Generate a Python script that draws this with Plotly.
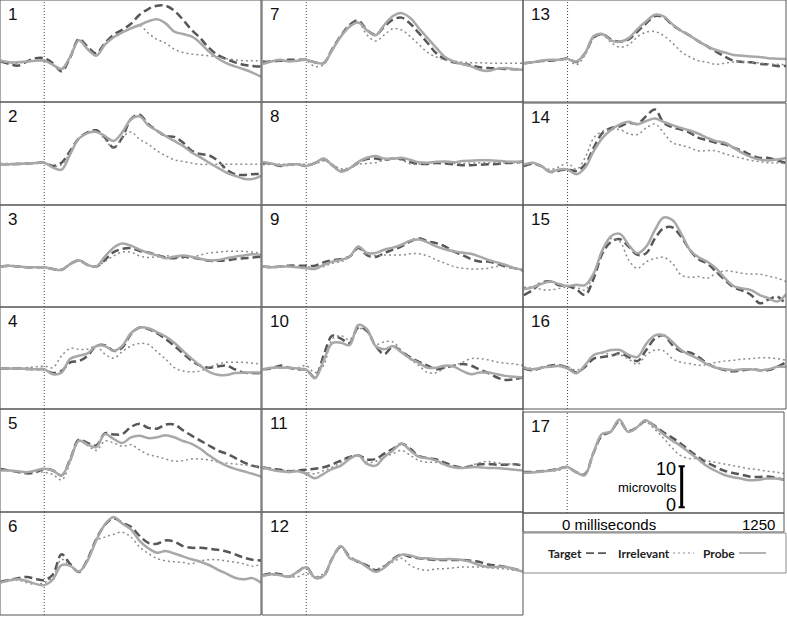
import plotly.graph_objects as go

# time axis (ms) shared by every panel
times = list(range(-250, 1251, 50))

# microvolt values: target / irrelevant / probe
target_1 = [0.0, -0.6, -1.0, 0.0, 0.8, 0.8, -0.4, -2.4, 1.0, 5.5, 3.6, 2.0, 4.5, 6.5, 7.7, 9.2, 11.4, 12.8, 13.6, 13.6, 12.4, 10.2, 7.7, 5.7, 3.3, 1.6, 0.6, -0.2, -0.8, -1.1, -1.2]
irrelevant_1 = [0.3, -0.3, -0.4, 0.0, 0.2, 0.4, -0.8, -2.0, 1.0, 5.0, 3.2, 1.6, 4.1, 5.9, 7.1, 8.1, 8.8, 6.9, 5.4, 4.5, 3.0, 2.2, 1.8, 1.6, 1.4, 1.1, 0.7, 0.4, 0.2, 0.2, 0.2]
probe_1 = [0.2, -0.2, -0.2, 0.0, 0.2, 0.2, -0.8, -1.8, 1.2, 5.2, 3.0, 1.4, 4.1, 5.9, 7.1, 8.1, 8.9, 9.8, 10.3, 9.3, 7.3, 6.7, 6.1, 4.5, 2.4, 0.8, -0.4, -1.2, -1.9, -2.7, -3.7]

target_2 = [-0.2, -0.2, -0.1, 0.0, 0.1, 0.2, -0.6, 0.2, 3.1, 6.1, 7.6, 8.1, 6.3, 3.9, 6.3, 10.8, 11.9, 9.6, 8.0, 6.7, 6.5, 5.1, 3.1, 2.3, 2.0, 0.7, -1.4, -2.6, -2.8, -2.6, -2.6]
irrelevant_2 = [0.0, 0.0, 0.0, 0.0, 0.1, 0.2, -0.7, -0.3, 2.7, 5.9, 7.4, 7.9, 5.9, 3.7, 6.3, 7.7, 5.9, 4.7, 3.1, 1.9, 0.9, 0.5, 0.1, -0.2, -0.2, -0.2, -0.2, -0.2, -0.2, -0.2, -0.2]
probe_2 = [-0.2, -0.2, -0.1, 0.0, 0.1, 0.2, -1.0, -1.5, 2.3, 6.1, 7.4, 7.7, 6.7, 5.5, 7.6, 10.8, 11.5, 9.3, 8.0, 6.7, 5.5, 4.3, 2.7, 1.5, 0.2, -1.0, -2.2, -3.0, -3.7, -3.8, -3.0]

target_3 = [0.0, 0.2, 0.0, -0.2, -0.2, -0.2, -0.6, -0.8, 0.6, 1.5, 0.4, 0.0, 1.6, 3.5, 4.3, 4.5, 3.8, 3.4, 2.8, 2.2, 2.0, 2.4, 2.2, 1.8, 1.4, 1.4, 1.5, 1.8, 2.0, 2.2, 2.4]
irrelevant_3 = [0.0, 0.2, 0.0, -0.2, -0.2, -0.2, -0.6, -0.8, 0.6, 1.4, 0.3, 0.0, 1.2, 2.6, 3.5, 3.5, 2.6, 2.2, 2.4, 2.6, 2.4, 2.0, 2.2, 2.8, 3.3, 3.5, 3.7, 3.7, 3.7, 3.5, 3.3]
probe_3 = [0.0, 0.2, 0.0, -0.2, -0.2, -0.2, -0.6, -0.8, 0.6, 1.5, 0.4, 0.0, 2.4, 4.6, 5.6, 5.1, 4.1, 3.3, 2.7, 2.0, 2.4, 2.7, 2.4, 1.9, 1.5, 1.6, 2.0, 2.4, 2.7, 3.0, 2.8]

target_4 = [0.0, 0.0, 0.0, -0.1, -0.2, -0.2, -1.1, -0.6, 1.5, 1.8, 3.1, 5.5, 5.7, 4.3, 5.1, 8.4, 10.0, 9.6, 8.6, 7.2, 5.5, 3.7, 1.9, 0.7, 0.2, 0.5, 0.7, -0.2, -1.0, -1.1, -1.2]
irrelevant_4 = [0.0, 0.0, 0.0, 0.2, 0.4, 0.6, 0.2, 3.1, 4.9, 4.7, 4.7, 5.4, 3.5, 2.5, 4.1, 5.5, 6.1, 5.9, 4.1, 2.3, 0.2, -0.6, -0.8, -0.6, 0.2, 1.1, 1.5, 1.5, 1.5, 1.3, 1.1]
probe_4 = [0.0, 0.0, 0.0, -0.1, -0.2, -0.2, -1.4, -1.0, 2.4, 3.1, 3.7, 5.5, 5.5, 4.3, 5.5, 8.6, 10.0, 9.8, 8.9, 7.8, 6.3, 4.3, 2.4, 0.7, -0.8, -1.5, -1.6, -1.1, -1.0, -1.0, -1.0]

target_5 = [0.4, 0.0, -0.4, -0.7, -0.5, 0.4, 0.0, -1.2, 2.8, 7.5, 6.7, 6.1, 9.1, 8.8, 8.9, 10.6, 11.4, 10.4, 10.2, 11.2, 11.2, 9.8, 8.5, 7.3, 6.1, 4.9, 4.1, 3.1, 2.0, 1.2, 0.7]
irrelevant_5 = [0.0, 0.0, -0.2, -0.4, -0.4, -0.4, -1.0, -2.3, 2.0, 7.2, 6.1, 4.9, 7.2, 6.7, 5.9, 6.3, 5.0, 3.9, 3.4, 2.8, 2.3, 2.4, 2.8, 2.8, 2.6, 2.1, 1.8, 1.6, 1.4, 1.1, 0.8]
probe_5 = [0.0, 0.0, -0.2, -0.4, 0.0, 0.4, 0.0, -1.2, 2.6, 7.3, 6.3, 5.7, 8.9, 7.7, 6.7, 8.1, 8.5, 7.9, 8.1, 8.6, 8.1, 7.2, 6.5, 5.3, 3.7, 2.3, 1.2, 0.4, -0.2, -0.8, -1.5]

target_6 = [-0.2, 0.3, 0.7, 1.0, 0.5, 0.2, 1.6, 6.5, 4.1, 2.2, 5.3, 10.2, 13.7, 15.3, 14.2, 13.2, 11.0, 9.3, 9.1, 9.9, 9.6, 8.5, 8.1, 8.1, 7.9, 7.6, 7.2, 6.5, 5.7, 5.2, 5.0]
irrelevant_6 = [-0.4, 0.0, 0.2, -0.4, -0.8, -0.4, 1.0, 5.3, 3.7, 2.3, 5.3, 9.8, 10.7, 11.4, 11.9, 10.7, 8.3, 6.7, 5.5, 4.9, 4.7, 4.5, 4.2, 4.9, 5.2, 5.2, 4.9, 4.6, 4.2, 3.6, 4.1]
probe_6 = [-0.4, 0.2, 0.4, 0.0, -0.7, -1.0, 0.4, 3.9, 3.7, 2.3, 5.0, 9.9, 13.8, 15.6, 14.0, 12.6, 9.8, 8.0, 6.9, 7.3, 6.7, 6.0, 5.3, 4.7, 3.9, 2.8, 1.8, 0.8, 0.4, 0.7, -0.4]

target_7 = [-0.2, 0.0, 0.2, 0.4, 0.4, 0.4, -0.2, -0.4, 3.0, 6.3, 8.9, 10.0, 7.7, 6.5, 8.5, 10.2, 10.7, 9.2, 6.9, 4.5, 2.0, 0.6, -0.2, -0.6, -0.9, -1.4, -1.6, -1.7, -1.8, -1.9, -1.9]
irrelevant_7 = [0.2, 0.2, 0.2, 0.2, 0.2, 0.2, -1.2, -0.8, 2.8, 6.3, 8.9, 9.5, 6.5, 5.0, 6.5, 8.0, 7.7, 6.1, 4.1, 2.2, 1.1, 0.4, 0.1, -0.2, -0.3, -0.3, -0.4, -0.4, -0.4, -0.4, -0.4]
probe_7 = [-0.6, 0.0, 0.4, 0.0, 0.2, 0.4, -0.2, -0.4, 2.8, 6.1, 8.5, 9.5, 7.6, 6.4, 8.9, 11.1, 11.8, 10.6, 8.1, 5.7, 3.3, 1.1, 0.0, -0.6, -1.2, -2.0, -2.3, -1.8, -1.6, -1.9, -2.0]

target_8 = [0.2, -0.1, -0.6, -0.3, -0.2, -0.6, 0.1, 1.1, -0.4, -1.8, -1.2, 0.2, 1.1, 1.2, 0.9, 1.2, 1.1, 0.4, -0.1, -0.1, 0.1, 0.0, -0.2, -0.4, -0.4, -0.3, -0.2, -0.1, 0.1, 0.2, 0.4]
irrelevant_8 = [-0.3, -0.2, -0.2, -0.2, -0.2, -0.2, -0.1, 0.6, -0.2, -1.3, -1.0, -0.2, 0.0, 0.2, 0.8, 1.1, 0.8, -0.1, -0.2, 0.1, 0.3, 0.2, 0.0, 0.0, 0.1, 0.2, 0.2, 0.2, 0.2, 0.2, 0.2]
probe_8 = [0.4, 0.0, -0.4, -0.3, -0.2, -0.6, 0.1, 1.2, -0.4, -2.0, -1.2, 0.4, 1.4, 1.8, 1.2, 1.2, 1.4, 0.9, 0.3, 0.2, 0.4, 0.5, 0.3, 0.6, 0.7, 0.8, 0.8, 0.7, 0.5, 0.4, 0.5]

target_9 = [0.0, -0.2, 0.0, 0.2, 0.2, 0.2, 0.2, 1.0, 1.5, 1.8, 2.4, 4.5, 2.8, 2.3, 3.3, 4.1, 4.9, 6.1, 6.9, 6.1, 5.7, 4.9, 3.7, 2.8, 1.8, 1.2, 1.2, 0.7, 0.0, -0.4, -1.0]
irrelevant_9 = [0.0, 0.0, 0.0, 0.0, 0.0, 0.0, -0.4, 0.0, 0.8, 1.2, 2.3, 4.5, 2.8, 2.6, 2.8, 2.8, 2.8, 3.1, 3.1, 2.6, 1.6, 0.8, 0.0, -0.4, -0.6, -0.6, -0.4, 0.0, 0.0, -0.4, -0.8]
probe_9 = [0.0, -0.2, 0.0, 0.0, -0.2, -0.4, -0.6, 0.4, 1.2, 1.6, 2.4, 4.9, 3.3, 3.3, 4.1, 4.6, 5.3, 6.3, 6.6, 5.9, 4.9, 4.2, 3.7, 3.4, 3.1, 2.4, 1.6, 1.0, 0.4, -0.4, -0.8]

target_10 = [-0.2, 0.0, 0.7, 0.2, -0.2, -0.3, -2.2, 3.1, 8.0, 7.3, 6.2, 10.0, 9.2, 5.5, 3.5, 5.4, 4.1, 2.7, 1.6, 0.7, -0.2, 0.2, 0.7, 1.1, 0.7, -0.3, -1.1, -2.2, -2.8, -2.6, -2.2]
irrelevant_10 = [-0.2, 0.0, 0.2, 0.2, 0.2, 0.7, -1.0, 0.7, 7.2, 8.0, 7.0, 9.8, 8.9, 5.9, 6.5, 6.5, 4.3, 2.3, 0.7, -1.0, -1.0, 0.2, 0.7, 1.5, 2.4, 2.4, 2.1, 1.6, 1.3, 1.1, 0.7]
probe_10 = [-0.2, 0.2, 0.2, 0.2, 0.0, -0.3, -2.4, 1.9, 6.2, 6.3, 5.7, 10.6, 9.6, 5.5, 4.7, 5.4, 3.9, 2.4, 1.3, 0.2, 0.2, 0.7, 0.5, -0.6, -1.4, -1.0, -1.0, -1.4, -1.8, -2.0, -2.2]

target_11 = [0.8, 0.4, 0.2, -0.2, 0.0, 0.2, 0.4, 0.8, 1.5, 2.4, 3.3, 3.7, 2.7, 2.8, 4.1, 5.3, 6.5, 5.3, 3.5, 3.0, 2.7, 1.9, 1.1, 0.7, 1.1, 1.5, 1.6, 1.4, 1.4, 1.5, 1.2]
irrelevant_11 = [0.4, 0.2, 0.0, 0.0, 0.0, -0.4, -0.8, 0.0, 0.8, 2.0, 3.3, 3.7, 2.0, 2.2, 3.3, 4.1, 4.9, 3.7, 2.4, 2.0, 2.0, 1.4, 0.8, 0.8, 1.2, 1.9, 2.2, 1.9, 1.6, 1.6, 1.4]
probe_11 = [0.8, 0.2, -0.2, -0.4, -0.2, -0.8, -1.9, -0.8, 0.4, 1.2, 2.8, 3.7, 1.6, 1.2, 3.3, 4.9, 6.5, 4.9, 3.3, 3.0, 2.4, 1.4, 0.8, 0.6, 0.8, 0.8, 0.6, 0.6, 0.4, 0.2, 0.0]

target_12 = [-0.4, 0.0, -0.2, -0.8, 0.4, 1.6, -1.0, -0.6, 3.7, 6.5, 4.1, 2.8, 2.0, 0.8, 1.6, 3.5, 4.6, 4.1, 3.7, 3.5, 3.3, 3.3, 3.3, 3.3, 3.1, 2.8, 2.2, 1.9, 1.6, 1.1, 0.6]
irrelevant_12 = [-0.4, -0.4, -0.4, -0.8, -0.8, 0.0, -0.8, 0.0, 3.7, 6.5, 3.8, 2.8, 1.6, 1.1, 1.9, 2.8, 3.7, 2.0, 1.1, 0.8, 1.1, 1.2, 1.4, 1.6, 1.6, 1.6, 1.4, 1.2, 1.1, 0.8, 0.6]
probe_12 = [-0.6, -0.2, -0.4, -0.8, 0.4, 1.5, -1.0, -0.6, 3.7, 6.7, 3.8, 3.0, 1.6, 0.4, 1.4, 3.3, 4.6, 4.4, 3.8, 3.7, 3.5, 3.5, 3.5, 3.3, 2.8, 2.0, 1.6, 1.6, 1.6, 1.1, 0.4]

target_13 = [-0.4, -0.2, 0.1, 0.2, 0.4, 0.7, -0.1, 2.0, 5.9, 6.7, 5.3, 4.8, 5.4, 7.3, 9.3, 11.1, 10.8, 8.9, 7.5, 6.3, 4.9, 3.7, 2.4, 1.2, 0.2, -0.1, -0.2, -0.6, -0.7, -1.1, -1.1]
irrelevant_13 = [-0.4, -0.2, 0.1, 0.2, 0.4, 0.6, -0.8, 1.6, 5.7, 6.5, 4.6, 3.5, 4.1, 6.0, 7.2, 7.3, 6.3, 4.5, 2.4, 1.1, 0.2, -0.2, -0.7, -0.4, -0.1, -0.1, -0.2, -0.4, -0.6, -0.7, -0.8]
probe_13 = [-0.4, -0.2, 0.2, 0.4, 0.4, 0.6, 0.0, 2.0, 6.2, 6.7, 5.1, 4.8, 5.7, 7.9, 9.8, 11.4, 11.0, 9.1, 7.5, 6.3, 4.9, 3.7, 2.8, 2.2, 1.6, 1.4, 1.2, 1.1, 0.8, 0.7, 0.6]

target_14 = [-0.4, 0.2, -0.4, -1.8, -1.5, -1.2, -1.6, 0.0, 4.1, 7.7, 8.9, 9.3, 10.2, 9.9, 11.8, 13.4, 10.2, 9.1, 8.5, 7.7, 6.5, 5.9, 5.3, 4.9, 4.1, 3.3, 2.3, 1.6, 1.6, 1.0, 0.4]
irrelevant_14 = [0.0, 0.4, -0.4, -1.2, -0.6, 0.4, -1.2, 1.6, 6.5, 8.1, 8.5, 8.5, 7.5, 7.3, 8.9, 9.9, 7.7, 5.3, 4.7, 4.1, 3.3, 3.4, 3.3, 2.6, 2.0, 1.5, 1.0, 0.7, 0.4, 0.4, 0.2]
probe_14 = [0.0, 0.4, -0.4, -1.8, -1.2, -1.2, -2.4, -0.8, 3.3, 6.5, 8.5, 9.8, 10.4, 9.8, 10.6, 11.2, 10.4, 9.6, 8.9, 8.3, 7.5, 6.5, 5.7, 5.3, 4.1, 2.8, 1.8, 1.2, 1.0, 1.2, 1.6]

target_15 = [-2.2, -1.0, 0.8, 1.1, 0.2, 0.0, -0.8, -2.2, 1.9, 8.0, 10.8, 11.4, 9.6, 7.6, 8.0, 11.6, 14.1, 14.3, 12.0, 8.8, 6.5, 5.5, 3.5, 1.5, -0.3, -1.1, -2.2, -4.2, -3.3, -2.6, -4.6]
irrelevant_15 = [-0.3, -0.3, -0.8, -1.0, -0.6, -0.2, -0.3, -1.0, 3.1, 8.8, 11.6, 10.8, 6.3, 4.3, 5.9, 6.7, 7.0, 5.5, 2.7, 2.1, 2.3, 1.9, 3.1, 3.7, 3.5, 3.1, 2.9, 2.9, 2.4, 1.9, 1.1]
probe_15 = [-0.8, -0.3, 0.5, 1.1, 0.5, 0.0, 0.3, 0.2, 3.1, 8.8, 12.2, 12.7, 10.0, 8.0, 9.6, 13.7, 16.7, 16.1, 12.8, 8.8, 7.0, 5.9, 4.3, 1.9, 0.0, -0.6, -1.0, -2.2, -3.0, -3.8, -2.0]

target_16 = [0.0, -0.4, 0.2, 0.7, 0.8, 0.2, -1.0, 0.4, 2.4, 2.8, 3.1, 3.7, 2.8, 1.8, 4.5, 7.3, 8.1, 5.7, 4.2, 3.9, 2.8, 1.2, 0.2, -0.4, -0.7, -0.4, -0.2, -0.4, -0.4, 0.4, 1.5]
irrelevant_16 = [0.4, 0.0, 0.2, 0.8, 0.6, 0.4, -0.4, 0.8, 3.3, 3.7, 3.4, 3.3, 2.3, 1.0, 3.3, 4.5, 4.3, 2.4, 1.5, 1.2, 0.8, 1.0, 1.5, 1.8, 2.0, 2.3, 2.4, 2.6, 2.6, 2.4, 2.0]
probe_16 = [0.2, -0.2, 0.2, 0.4, 0.6, 0.0, -1.2, 0.8, 3.3, 3.9, 4.5, 4.5, 3.3, 2.8, 6.0, 8.1, 8.1, 6.5, 4.5, 3.3, 2.3, 1.0, 0.2, -0.2, -0.4, -0.2, -0.2, -0.4, -0.2, 0.4, 0.4]

target_17 = [0.0, 0.0, 0.2, 0.4, 0.8, 1.2, 0.0, -0.6, 4.5, 8.9, 9.8, 12.4, 10.0, 10.8, 12.4, 11.4, 9.8, 8.5, 7.1, 5.4, 3.8, 2.4, 1.4, 0.4, -0.2, -0.6, -1.1, -1.2, -1.1, -1.4, -1.9]
irrelevant_17 = [-0.2, 0.0, 0.2, 0.2, 0.4, 1.2, 0.0, -0.8, 4.5, 9.1, 9.8, 12.6, 9.8, 10.8, 12.2, 10.6, 8.5, 6.1, 4.1, 3.3, 3.3, 2.8, 2.4, 2.0, 1.6, 1.2, 0.8, 0.6, 0.2, 0.0, -0.4]
probe_17 = [-0.2, -0.1, 0.1, 0.3, 0.7, 1.2, 0.0, -0.8, 4.5, 9.3, 9.8, 12.8, 9.8, 10.8, 12.6, 11.2, 9.4, 7.8, 6.5, 4.9, 3.3, 1.6, 0.4, -0.6, -1.2, -1.6, -2.0, -1.9, -1.6, -1.6, -1.9]

targets = [target_1, target_2, target_3, target_4, target_5, target_6, target_7, target_8, target_9,
           target_10, target_11, target_12, target_13, target_14, target_15, target_16, target_17]
irrelevants = [irrelevant_1, irrelevant_2, irrelevant_3, irrelevant_4, irrelevant_5, irrelevant_6,
               irrelevant_7, irrelevant_8, irrelevant_9, irrelevant_10, irrelevant_11, irrelevant_12,
               irrelevant_13, irrelevant_14, irrelevant_15, irrelevant_16, irrelevant_17]
probes = [probe_1, probe_2, probe_3, probe_4, probe_5, probe_6, probe_7, probe_8, probe_9,
          probe_10, probe_11, probe_12, probe_13, probe_14, probe_15, probe_16, probe_17]

condition_names = ['Target', 'Irrelevant', 'Probe']
scale_uv = 10
time_labels = ['0 milliseconds', '1250']
time_label_ms = [0, 1250]

W, H = 787, 617
PX_PER_UV = 4.1
X_RANGE = [-255, 1250]

# panel boxes in pixels (left, top, right, bottom) and baseline depth from top
boxes = {
    1: (0, 0, 261, 102), 2: (0, 102, 261, 205), 3: (0, 205, 261, 307),
    4: (0, 307, 261, 409), 5: (0, 409, 261, 512), 6: (0, 512, 261, 615),
    7: (262, 0, 523, 102), 8: (262, 102, 523, 205), 9: (262, 205, 523, 307),
    10: (262, 307, 523, 409), 11: (262, 409, 523, 512), 12: (262, 512, 523, 615),
    13: (523, 0, 786, 102), 14: (523, 103, 786, 205), 15: (523, 205, 786, 307),
    16: (523, 307, 786, 409), 17: (523, 412, 784, 513),
}
baseline_depth = {i: 61.5 for i in boxes}
baseline_depth[6] = 69
baseline_depth[15] = 81
baseline_depth[17] = 60

styles = {
    'Target': dict(color='#575757', width=2.5, dash='8px,4px'),
    'Irrelevant': dict(color='#8c8c8c', width=1.5, dash='2px,3px'),
    'Probe': dict(color='#a8a8a8', width=2.5),
}
FRAME = '#555555'


def px(x):
    return x / W


def py(y):
    return 1 - y / H


def sfx(i):
    return '' if i == 1 else str(i)


fig = go.Figure()
layout = dict(
    width=W, height=H,
    margin=dict(l=0, r=0, t=0, b=0),
    paper_bgcolor='white', plot_bgcolor='white',
    showlegend=False, hovermode=False,
    font=dict(family='Liberation Sans, Arial, sans-serif', color='black'),
)
shapes = []
annotations = []

for i in range(1, 18):
    l, t, r, b = boxes[i]
    depth = baseline_depth[i]
    y_lo = -(b - t - depth) / PX_PER_UV
    y_hi = depth / PX_PER_UV
    s = sfx(i)
    axis_style = dict(showgrid=False, zeroline=False, showticklabels=False, ticks='',
                      showline=False, fixedrange=True)
    layout['xaxis' + s] = dict(domain=[px(l), px(r)], range=X_RANGE, anchor='y' + s, **axis_style)
    layout['yaxis' + s] = dict(domain=[py(b), py(t)], range=[y_lo, y_hi], anchor='x' + s, **axis_style)

    for name, series in zip(condition_names, [targets, irrelevants, probes]):
        fig.add_trace(go.Scatter(
            x=times, y=series[i - 1], xaxis='x' + s, yaxis='y' + s,
            mode='lines', line=dict(shape='spline', smoothing=1, **styles[name]),
            name=name, hoverinfo='skip',
        ))

    # panel frame
    shapes.append(dict(type='rect', xref='paper', yref='paper', x0=px(l), x1=px(r), y0=py(b), y1=py(t),
                       line=dict(color=FRAME, width=1)))
    # stimulus onset
    shapes.append(dict(type='line', xref='x' + s, yref='y' + s + ' domain', x0=0, x1=0, y0=0, y1=1,
                       line=dict(color='#444444', width=1, dash='1px,2px'), layer='below'))
    annotations.append(dict(text=str(i), xref='x' + s + ' domain', yref='y' + s + ' domain',
                            x=0, y=1, xanchor='left', yanchor='top', xshift=6, yshift=-3,
                            showarrow=False, font=dict(size=17, color='#111111')))

# scale bar inside panel 17
bar_x = 660
bar_lo = -8.6
bar_hi = bar_lo + scale_uv
cap = 18
shapes.append(dict(type='line', xref='x17', yref='y17', x0=bar_x, x1=bar_x, y0=bar_lo, y1=bar_hi,
                   line=dict(color='black', width=3)))
for yv in (bar_lo, bar_hi):
    shapes.append(dict(type='line', xref='x17', yref='y17', x0=bar_x - cap, x1=bar_x + cap, y0=yv, y1=yv,
                       line=dict(color='black', width=2)))
annotations.append(dict(text=str(scale_uv), xref='x17', yref='y17', x=bar_x, y=bar_hi, xanchor='right',
                        yanchor='middle', xshift=-4, yshift=-3, showarrow=False, font=dict(size=18)))
annotations.append(dict(text='microvolts', xref='x17', yref='y17', x=bar_x, y=bar_lo + scale_uv * 0.5,
                        xanchor='right', yanchor='middle', xshift=-3, yshift=-1, showarrow=False,
                        font=dict(size=13)))
annotations.append(dict(text='0', xref='x17', yref='y17', x=bar_x, y=bar_lo, xanchor='right',
                        yanchor='middle', xshift=-4, yshift=2, showarrow=False, font=dict(size=18)))

# time strip under panel 17
shapes.append(dict(type='rect', xref='paper', yref='paper', x0=px(523), x1=px(784), y0=py(532), y1=py(513),
                   line=dict(color=FRAME, width=1)))
annotations.append(dict(text=time_labels[0], xref='x17', yref='paper', x=time_label_ms[0], y=py(524),
                        xanchor='left', yanchor='middle', xshift=-7, showarrow=False, font=dict(size=15)))
annotations.append(dict(text=time_labels[1], xref='x17', yref='paper', x=time_label_ms[1], y=py(524),
                        xanchor='right', yanchor='middle', xshift=-7, showarrow=False, font=dict(size=15)))

# legend box
shapes.append(dict(type='rect', xref='paper', yref='paper', x0=px(523), x1=px(786), y0=py(573), y1=py(533),
                   line=dict(color='#8a8a8a', width=1)))
legend_spans = {'Target': (584, 586, 609), 'Irrelevant': (672, 673, 694), 'Probe': (737, 739, 766)}
for name in condition_names:
    text_right, x0, x1 = legend_spans[name]
    annotations.append(dict(text='<b>' + name + '</b>', xref='paper', yref='paper', x=px(text_right),
                            y=py(553), xanchor='right', yanchor='middle', showarrow=False,
                            font=dict(family='Lato, Liberation Sans, sans-serif', size=12, color='#222222')))
    st = styles[name]
    shapes.append(dict(type='line', xref='paper', yref='paper', x0=px(x0), x1=px(x1), y0=py(553), y1=py(553),
                       line=dict(color=st['color'], width=st['width'] * 0.7, dash=st.get('dash', 'solid'))))

layout['shapes'] = shapes
layout['annotations'] = annotations
fig.update_layout(**layout)

# drop the page's default body margin so the figure sits at the window's corner
fig.write_html("out.html", config={'displayModeBar': False},
               post_script="document.body.style.margin = '0';")
